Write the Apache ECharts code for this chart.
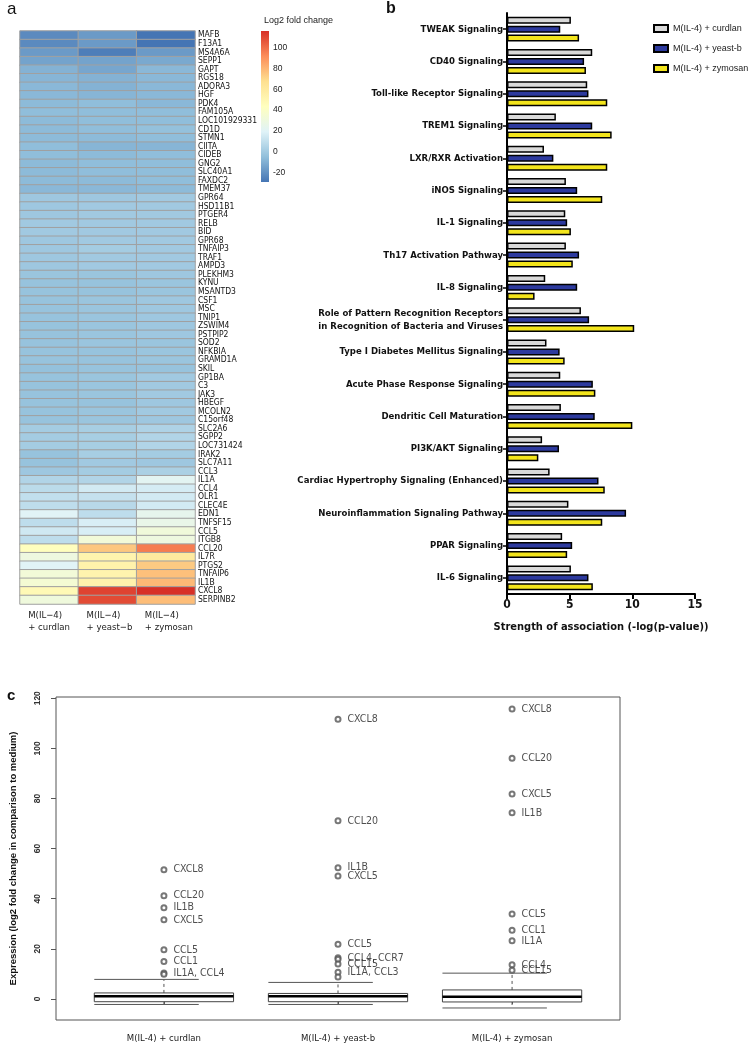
<!DOCTYPE html>
<html><head><meta charset="utf-8">
<script src="https://cdn.jsdelivr.net/npm/echarts@6/dist/echarts.min.js"></script>
<style>html,body{margin:0;padding:0;background:#fff}#c{width:749px;height:1062px}</style>
</head><body><div id="c"></div>
<script>
// ---------- Panel a: heatmap ----------
const genes = ['MAFB','F13A1','MS4A6A','SEPP1','GAPT','RGS18','ADORA3','HGF','PDK4','FAM105A','LOC101929331','CD1D','STMN1','CIITA','CIDEB','GNG2','SLC40A1','FAXDC2','TMEM37','GPR64','HSD11B1','PTGER4','RELB','BID','GPR68','TNFAIP3','TRAF1','AMPD3','PLEKHM3','KYNU','MSANTD3','CSF1','MSC','TNIP1','ZSWIM4','PSTPIP2','SOD2','NFKBIA','GRAMD1A','SKIL','GP1BA','C3','JAK3','HBEGF','MCOLN2','C15orf48','SLC2A6','SGPP2','LOC731424','IRAK2','SLC7A11','CCL3','IL1A','CCL4','OLR1','CLEC4E','EDN1','TNFSF15','CCL5','ITGB8','CCL20','IL7R','PTGS2','TNFAIP6','IL1B','CXCL8','SERPINB2'];
const heatColumns = ['M(IL−4)\n+ curdlan','M(IL−4)\n+ yeast−b','M(IL−4)\n+ zymosan'];
const heatCurdlan = [-22,-22,-17,-14,-9,-8,-7,-7,-6,-5,-6,-6,-6,-5,-5,-6,-6,-6,-7,-1,-1,-1,0,0,-1,-1,-1,-1,-2,-3,-3,-3,-3,-3,-3,-3,-3,-3,-3,-4,-3,-3,-3,-3,-3,-3,1,1,1,-3,-3,-1,5,8,10,9,20,9,14,9,44,30,20,33,35,48,31];
const heatYeast   = [-17,-17,-26,-14,-13,-9,-9,-8,-5,-5,-5,-5,-6,-8,-6,-5,-5,-6,-7,-1,0,0,0,0,0,1,0,0,-2,-3,-3,-2,-2,-2,-2,-2,-2,-3,-3,-3,-2,-2,-2,-3,-2,-2,2,2,2,2,0,1,5,15,11,7,9,17,17,33,75,52,54,52,53,111,109];
const heatZymosan = [-29,-29,-17,-12,-7,-7,-7,-7,-7,-5,-5,-4,-5,-8,-5,-5,-5,-5,-6,0,0,0,0,0,0,0,0,0,-1,-2,-2,-1,-1,-1,-1,-1,-2,-2,-2,-3,0,0,0,-1,0,-1,4,5,5,1,-1,3,22,16,15,15,24,26,32,30,96,60,74,77,79,116,78];
const colorMin = -29, colorMax = 116;
const legendTicks = [-20, 0, 20, 40, 60, 80, 100];
const palette = ['#4575B4','#91BFDB','#E0F3F8','#FFFFBF','#FEE090','#FC8D59','#D73027'];

// ---------- Panel b: bars ----------
const pathways = ['TWEAK Signaling','CD40 Signaling','Toll-like Receptor Signaling','TREM1 Signaling','LXR/RXR Activation','iNOS Signaling','IL-1 Signaling','Th17 Activation Pathway','IL-8 Signaling','Role of Pattern Recognition Receptors\nin Recognition of Bacteria and Viruses','Type I Diabetes Mellitus Signaling','Acute Phase Response Signaling','Dendritic Cell Maturation','PI3K/AKT Signaling','Cardiac Hypertrophy Signaling (Enhanced)','Neuroinflammation Signaling Pathway','PPAR Signaling','IL-6 Signaling'];
const seriesNames = ['M(IL-4) + curdlan','M(IL-4) + yeast-b','M(IL-4) + zymosan'];
const barCurdlan  = [5.1,6.8,6.4,3.9,2.95,4.7,4.65,4.7,3.05,5.9,3.15,4.25,4.3,2.8,3.4,4.9,4.4,5.1];
const barYeast    = [4.25,6.15,6.5,6.8,3.7,5.6,4.8,5.75,5.6,6.55,4.2,6.85,7.0,4.15,7.3,9.5,5.2,6.5];
const barZymosan  = [5.75,6.3,8.0,8.35,8.0,7.6,5.1,5.25,2.2,10.15,4.6,7.05,10.0,2.5,7.8,7.6,4.8,6.85];
const barColors = ['#d9d9d9','#2d3a9e','#f3e51c'];

// ---------- Panel c: boxplot ----------
const boxGroups = ['M(IL-4) + curdlan','M(IL-4) + yeast-b','M(IL-4) + zymosan'];
// [lower whisker, Q1, median, Q3, upper whisker]
const boxStats = [[-2.2,-1.1,1.1,2.4,7.8],[-2.2,-1.1,1.1,2.2,6.6],[-3.6,-1.2,0.9,3.6,10.3]];
const outCurdlanVals   = [51.6,41.2,36.4,31.6,19.6,14.9,10.4,9.9];
const outCurdlanLabels = ['CXCL8','CCL20','IL1B','CXCL5','CCL5','CCL1','IL1A, CCL4',''];
const outYeastVals     = [111.6,71.1,52.4,49.1,21.8,16.4,15.8,13.9,10.7,8.8];
const outYeastLabels   = ['CXCL8','CCL20','IL1B','CXCL5','CCL5','CCL4, CCR7','','CCL15','IL1A, CCL3',''];
const outZymosanVals   = [115.7,96.1,81.8,74.3,33.9,27.4,23.2,13.6,11.5];
const outZymosanLabels = ['CXCL8','CCL20','CXCL5','IL1B','CCL5','CCL1','IL1A','CCL4','CCL15'];
const boxYTicks = [0,20,40,60,80,100,120];

const NARROW = '"Liberation Sans Narrow","Arial Narrow","DejaVu Sans Condensed",sans-serif';
const SANS = '"Liberation Sans",Arial,sans-serif';

const heatData = [];
[heatCurdlan, heatYeast, heatZymosan].forEach((col, c) => col.forEach((v, r) => heatData.push([c, r, v])));

function outlierSeries(idx, vals, labels) {
  return {
    type: 'scatter', xAxisIndex: 3, yAxisIndex: 3, symbol: 'emptyCircle', symbolSize: 5,
    itemStyle: { color: '#555', borderColor: '#555', borderWidth: 0.8 },
    data: vals.map(v => [idx, v]),
    label: { show: true, position: 'right', distance: 6, fontFamily: NARROW, fontSize: 10.5, color: '#222',
      formatter: p => labels[p.dataIndex] },
    labelLayout: { hideOverlap: false },
    emphasis: { disabled: true }, silent: true, z: 5
  };
}

const chart = echarts.init(document.getElementById('c'), null, { renderer: 'canvas' });
chart.setOption({
  backgroundColor: '#fff',
  animation: false,
  title: [
    { text: 'a', left: 2, top: -4, textStyle: { fontFamily: SANS, fontSize: 17, fontWeight: 'normal', color: '#111' } },
    { text: 'b', left: 381, top: -4, textStyle: { fontFamily: SANS, fontSize: 16, fontWeight: 'bold', color: '#111' } },
    { text: 'c', left: 2, top: 683, textStyle: { fontFamily: SANS, fontSize: 15, fontWeight: 'bold', color: '#111' } },
    { text: 'Log2 fold change', left: 259, top: 11, textStyle: { fontFamily: SANS, fontSize: 9, fontWeight: 'normal', color: '#222' } }
  ],
  legend: {
    data: seriesNames, left: 648, top: 19, orient: 'vertical', itemWidth: 14, itemHeight: 7, itemGap: 11,
    icon: 'rect', textStyle: { fontFamily: SANS, fontSize: 9, color: '#222' }, selectedMode: false
  },
  visualMap: {
    show: false, seriesIndex: 0, dimension: 2, min: colorMin, max: colorMax, inRange: { color: palette }
  },
  grid: [
    { left: 20, top: 31, width: 175, height: 573 },
    { left: 261, top: 31, width: 8, height: 151 },
    { left: 507, top: 13, width: 188, height: 581 },
    { left: 52, top: 697, width: 568, height: 323, show: true, borderColor: '#555', borderWidth: 1 }
  ],
  xAxis: [
    { type: 'category', gridIndex: 0, data: heatColumns, axisLine: { show: false }, axisTick: { show: false },
      axisLabel: { interval: 0, hideOverlap: false, margin: 6, align: 'center',
        formatter: v => v.split('\n').map(s => '{a|' + s + '}').join('\n'),
        rich: { a: { fontFamily: NARROW, fontSize: 9.5, lineHeight: 12, width: 42, align: 'left', color: '#222' } } } },
    { type: 'value', gridIndex: 1, min: 0, max: 1, show: false },
    { type: 'value', gridIndex: 2, min: 0, max: 15, interval: 5, splitLine: { show: false },
      axisLine: { show: true, onZero: false, lineStyle: { color: '#000', width: 2 } },
      axisTick: { show: true, length: 5, lineStyle: { color: '#000', width: 2 } },
      axisLabel: { fontFamily: NARROW, fontSize: 12, fontWeight: 'bold', color: '#111', margin: 5 },
      name: 'Strength of association (-log(p-value))', nameLocation: 'middle', nameGap: 28,
      nameTextStyle: { fontFamily: NARROW, fontSize: 11, fontWeight: 'bold', color: '#111' } },
    { type: 'value', gridIndex: 3, min: 0.38, max: 3.62, splitLine: { show: false },
      axisLine: { show: false },
      axisTick: { show: true, length: 5, customValues: [1, 2, 3], lineStyle: { color: '#555' } },
      axisLabel: { customValues: [1, 2, 3], formatter: v => boxGroups[Math.round(v) - 1], margin: 14,
        fontFamily: NARROW, fontSize: 9.5, color: '#222' } }
  ],
  yAxis: [
    { type: 'category', gridIndex: 0, data: genes, inverse: true, position: 'right',
      axisLine: { show: false }, axisTick: { show: false },
      axisLabel: { interval: 0, margin: 3, fontFamily: NARROW, fontSize: 8.5, color: '#111' } },
    { type: 'value', gridIndex: 1, min: colorMin, max: colorMax, position: 'right', splitLine: { show: false },
      axisLine: { show: false }, axisTick: { show: false },
      axisLabel: { customValues: legendTicks, margin: 4, fontFamily: SANS, fontSize: 8.5, color: '#222' } },
    { type: 'category', gridIndex: 2, data: pathways, inverse: true,
      axisLine: { show: true, lineStyle: { color: '#000', width: 2 } },
      axisTick: { show: true, length: 4, alignWithLabel: true, lineStyle: { color: '#000', width: 1.5 } },
      axisLabel: { interval: 0, margin: 4, fontFamily: NARROW, fontSize: 9.5, fontWeight: 'bold', color: '#111', lineHeight: 13 } },
    { type: 'value', gridIndex: 3, min: -8.4, max: 120.5, splitLine: { show: false },
      axisLine: { show: false },
      axisTick: { show: true, length: 5, customValues: boxYTicks, lineStyle: { color: '#555' } },
      axisLabel: { customValues: boxYTicks, rotate: 90, margin: 14, fontFamily: SANS, fontSize: 8.5, fontWeight: 'bold', color: '#333' },
      name: 'Expression (log2 fold change in comparison to medium)', nameLocation: 'middle', nameGap: 38, nameRotate: 90,
      nameTextStyle: { fontFamily: SANS, fontSize: 9.5, fontWeight: 'bold', color: '#111' } }
  ],
  series: [
    { type: 'heatmap', xAxisIndex: 0, yAxisIndex: 0, data: heatData,
      itemStyle: { borderColor: '#a0a0a0', borderWidth: 1 }, emphasis: { disabled: true }, silent: true },
    { type: 'custom', xAxisIndex: 1, yAxisIndex: 1, data: [[0, colorMin, 1, colorMax]], silent: true,
      renderItem: (params, api) => {
        const p0 = api.coord([api.value(0), api.value(1)]);
        const p1 = api.coord([api.value(2), api.value(3)]);
        const stops = palette.map((c, i) => ({ offset: i / (palette.length - 1), color: c }));
        return { type: 'rect', shape: { x: p0[0], y: p1[1], width: p1[0] - p0[0], height: p0[1] - p1[1] },
          style: { fill: new echarts.graphic.LinearGradient(0, 1, 0, 0, stops) } };
      } },
    ...[barCurdlan, barYeast, barZymosan].map((d, i) => ({
      type: 'bar', name: seriesNames[i], xAxisIndex: 2, yAxisIndex: 2, data: d, barWidth: 7, barGap: '28%',
      itemStyle: { color: barColors[i], borderColor: '#000', borderWidth: 1.5 }, emphasis: { disabled: true }, silent: true
    })),
    { type: 'custom', xAxisIndex: 3, yAxisIndex: 3, data: boxStats.map((s, i) => [i + 1, ...s]), silent: true,
      renderItem: (params, api) => {
        const x = api.value(0), lo = api.value(1), q1 = api.value(2), med = api.value(3), q3 = api.value(4), hi = api.value(5);
        const hw = 0.4;
        const L = api.coord([x - hw, 0])[0], R = api.coord([x + hw, 0])[0], C = api.coord([x, 0])[0];
        const capR = api.coord([x + 0.2, 0])[0];
        const y = v => api.coord([x, v])[1];
        const dash = { stroke: '#555', lineWidth: 1, lineDash: [3, 3] };
        const solid = { stroke: '#555', lineWidth: 1 };
        return { type: 'group', children: [
          { type: 'line', shape: { x1: C, y1: y(q3), x2: C, y2: y(hi) }, style: dash },
          { type: 'line', shape: { x1: C, y1: y(q1), x2: C, y2: y(lo) }, style: dash },
          { type: 'line', shape: { x1: L, y1: y(hi), x2: capR, y2: y(hi) }, style: solid },
          { type: 'line', shape: { x1: L, y1: y(lo), x2: capR, y2: y(lo) }, style: solid },
          { type: 'rect', shape: { x: L, y: y(q3), width: R - L, height: y(q1) - y(q3) }, style: { fill: '#fff', stroke: '#444', lineWidth: 1 } },
          { type: 'line', shape: { x1: L, y1: y(med), x2: R, y2: y(med) }, style: { stroke: '#000', lineWidth: 2.5 } }
        ] };
      } },
    outlierSeries(1, outCurdlanVals, outCurdlanLabels),
    outlierSeries(2, outYeastVals, outYeastLabels),
    outlierSeries(3, outZymosanVals, outZymosanLabels)
  ]
});
</script>
</body></html>
